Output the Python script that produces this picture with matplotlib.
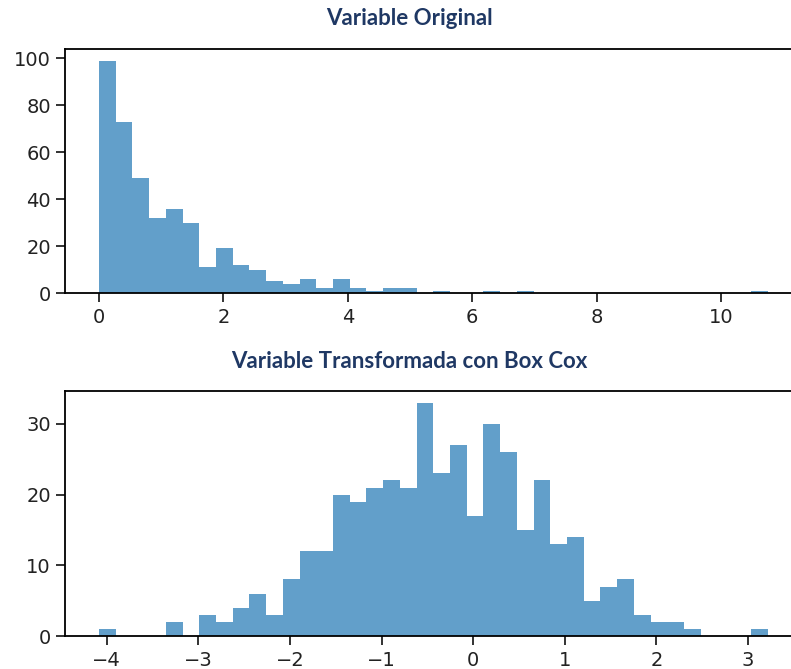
import matplotlib.pyplot as plt
import numpy as np

# Conteos por bin (40 bins) de cada histograma
orig_lo, orig_hi = 0.0, 10.75
orig_counts = [99, 73, 49, 32, 36, 30, 11, 19, 12, 10,
               5, 4, 6, 2, 6, 2, 1, 2, 2, 0,
               1, 0, 0, 1, 0, 1, 0, 0, 0, 0,
               0, 0, 0, 0, 0, 0, 0, 0, 0, 1]

bc_lo, bc_hi = -4.086, 3.214
bc_counts = [1, 0, 0, 0, 2, 0, 3, 2, 4, 6,
             3, 8, 12, 12, 20, 19, 21, 22, 21, 33,
             23, 27, 17, 30, 26, 15, 22, 13, 14, 5,
             7, 8, 3, 2, 2, 1, 0, 0, 0, 1]

titles = ["Variable Original", "Variable Transformada con Box Cox"]

plt.rcParams['font.family'] = 'DejaVu Sans'
plt.rcParams['axes.linewidth'] = 1.3
plt.rcParams['xtick.major.size'] = 6.5
plt.rcParams['ytick.major.size'] = 6.5
plt.rcParams['xtick.major.width'] = 1.3
plt.rcParams['ytick.major.width'] = 1.3
plt.rcParams['xtick.major.pad'] = 4.0
plt.rcParams['ytick.major.pad'] = 4.0
plt.rcParams['xtick.labelsize'] = 14
plt.rcParams['ytick.labelsize'] = 14
plt.rcParams['xtick.color'] = '#222222'
plt.rcParams['ytick.color'] = '#222222'

fig = plt.figure(figsize=(7.91, 6.69), dpi=100)
ax1 = fig.add_axes([0.0828, 0.562, 0.93, 0.3647])
ax2 = fig.add_axes([0.0828, 0.0493, 0.93, 0.3662])

for ax, lo, hi, counts in [(ax1, orig_lo, orig_hi, orig_counts),
                           (ax2, bc_lo, bc_hi, bc_counts)]:
    edges = np.linspace(lo, hi, len(counts) + 1)
    centers = (edges[:-1] + edges[1:]) / 2
    ax.hist(centers, bins=edges, weights=counts, histtype='stepfilled', alpha=0.7)

ax1.set_yticks([0, 20, 40, 60, 80, 100])
ax1.set_xticks([0, 2, 4, 6, 8, 10])
ax2.set_yticks([0, 10, 20, 30])
ax2.set_xticks([-4, -3, -2, -1, 0, 1, 2, 3])

fig.text(0.517, 0.973, titles[0], ha='center', va='center', fontsize=16,
         family='Lato', weight='bold', color='#1f3864')
fig.text(0.517, 0.459, titles[1], ha='center', va='center', fontsize=16,
         family='Lato', weight='bold', color='#1f3864')

fig.savefig('out.png', dpi=100)
